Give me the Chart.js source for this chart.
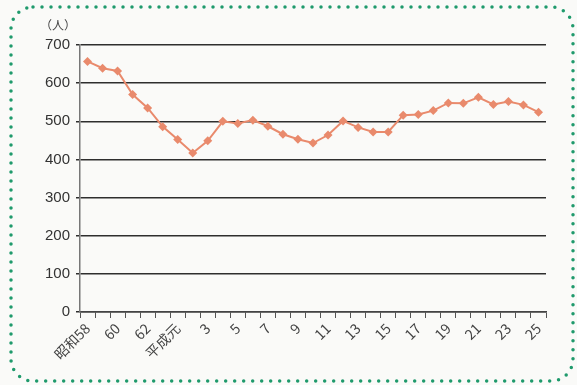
<!DOCTYPE html>
<html lang="ja">
<head>
<meta charset="utf-8">
<script src="https://cdn.jsdelivr.net/npm/chart.js@4/dist/chart.umd.min.js"></script>
<style>
  html, body { margin: 0; padding: 0; background: #fff; }
  #wrap { width: 577px; height: 385px; position: relative; }
</style>
</head>
<body>
<div id="wrap"><canvas id="grafico" width="577" height="385"></canvas></div>
<script>
// 年（昭和58〜平成25）
const categorias = ['昭和58', '59', '60', '61', '62', '63', '平成元',
    '2', '3', '4', '5', '6', '7', '8', '9', '10', '11', '12', '13', '14',
    '15', '16', '17', '18', '19', '20', '21', '22', '23', '24', '25'];

// 人数
const valores = [657, 639, 632, 570, 535, 486, 452, 417, 449, 500, 494,
    503, 487, 466, 453, 443, 464, 501, 484, 472, 472, 516, 518, 528,
    548, 547, 563, 544, 552, 543, 524];

const unidade = '（人）';
const yMax = 700;
const yPasso = 100;

// Moldura pontilhada e unidade
const moldura = {
    id: 'moldura',
    beforeDraw(chart) {
        const ctx = chart.ctx;
        ctx.save();
        ctx.fillStyle = '#fafaf8';
        ctx.fillRect(0, 0, chart.width, chart.height);
        ctx.restore();
    },
    afterDraw(chart) {
        const ctx = chart.ctx;
        ctx.save();
        ctx.strokeStyle = '#1f9a6c';
        ctx.lineWidth = 3.5;
        ctx.lineCap = 'round';
        ctx.setLineDash([0, 9]);
        ctx.beginPath();
        ctx.roundRect(11, 7, 562, 374, 22);
        ctx.stroke();
        ctx.setLineDash([]);
        ctx.fillStyle = '#444';
        ctx.font = '12px "Noto Sans CJK JP"';
        ctx.textAlign = 'left';
        ctx.textBaseline = 'middle';
        ctx.fillText(unidade, 40, 25);
        ctx.restore();
    }
};

new Chart(document.getElementById('grafico'), {
    type: 'line',
    data: {
        labels: categorias,
        datasets: [{
            data: valores,
            borderColor: '#e98a6c',
            backgroundColor: '#e98a6c',
            borderWidth: 2,
            pointStyle: 'rectRot',
            pointRadius: 4.5,
            pointBorderWidth: 0,
            tension: 0
        }]
    },
    options: {
        responsive: false,
        animation: false,
        devicePixelRatio: 1,
        layout: { padding: { left: 0, right: 31, top: 45, bottom: 0 } },
        plugins: {
            legend: { display: false },
            tooltip: { enabled: false }
        },
        scales: {
            x: {
                offset: true,
                grid: {
                    offset: true,
                    drawOnChartArea: false,
                    drawTicks: true,
                    tickLength: 6,
                    color: '#555'
                },
                border: { color: '#444', width: 1.5 },
                ticks: {
                    autoSkip: false,
                    minRotation: 45,
                    maxRotation: 45,
                    padding: 2,
                    color: '#444',
                    font: { family: '"Noto Sans CJK JP"', size: 14 },
                    callback: function (valor, i) {
                        return i % 2 === 0 ? this.getLabelForValue(valor) : '';
                    }
                },
                afterCalculateLabelRotation(escala) { escala.labelRotation = 45; },
                afterFit(escala) { escala.height = 73; }
            },
            y: {
                min: 0,
                max: yMax,
                grid: {
                    color: '#2e2e2e',
                    lineWidth: 1.5,
                    tickLength: 4
                },
                border: { color: '#777', width: 1.5 },
                ticks: {
                    stepSize: yPasso,
                    padding: 6,
                    color: '#333',
                    font: { family: '"Liberation Sans"', size: 15 }
                },
                afterFit(escala) { escala.width = 80; }
            }
        }
    },
    plugins: [moldura]
});
</script>
</body>
</html>
